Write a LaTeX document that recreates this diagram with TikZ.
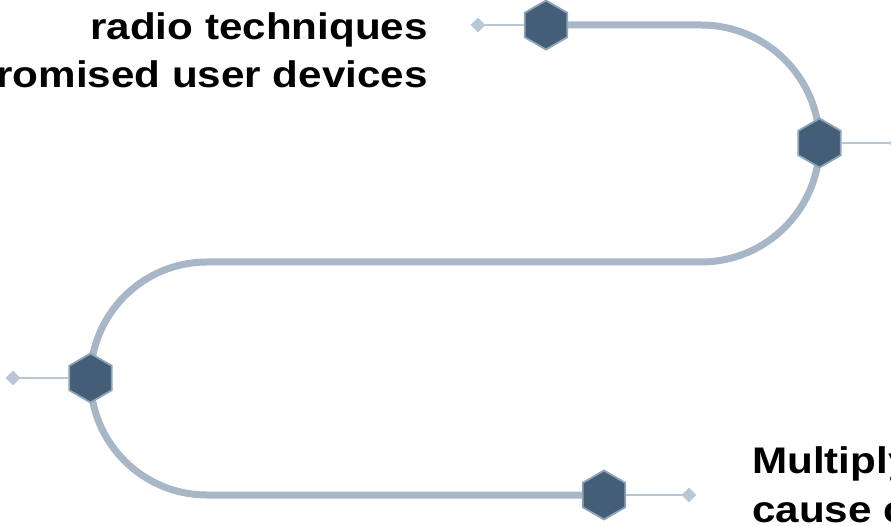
\documentclass[tikz,border=0pt]{standalone}
\usepackage{fontspec}
\setmainfont{Liberation Sans}
\usetikzlibrary{shapes.geometric}
\definecolor{pathc}{HTML}{A7B7C7}
\definecolor{hexfill}{HTML}{455E78}
\definecolor{hexline}{HTML}{8EA4B9}
\definecolor{linkc}{HTML}{B8C7D4}
\tikzset{
  road/.style={draw=pathc, line width=7pt},
  hexnode/.style={regular polygon, regular polygon sides=6, shape border rotate=30,
    minimum size=49pt, inner sep=0pt, fill=hexfill, draw=hexline, line width=1.8pt},
  dmd/.style={diamond, fill=linkc, inner sep=0pt, minimum width=15pt, minimum height=15pt},
  link/.style={draw=linkc, line width=2.6pt},
  lbl/.style={font=\fontsize{37}{42}\selectfont\bfseries, inner sep=0pt}
}
\begin{document}
\begin{tikzpicture}[x=1pt,y=1pt]
\useasboundingbox (0,0) rectangle (891,525);
% serpentine road
\coordinate (r0) at (546,500);
\coordinate (r1) at (701,500);
\coordinate (r2) at (701,263);
\coordinate (r3) at (207,263);
\coordinate (r4) at (207,30);
\coordinate (r5) at (604,30);
\draw[road] (r0) -- (r1) arc[start angle=90, end angle=-90, radius=118.5]
  -- (r3) arc[start angle=90, end angle=270, radius=116.5] -- (r5);
% hexagons
\node[hexnode] (h1) at (546,500) {};
\node[hexnode] (h2) at (819.5,382) {};
\node[hexnode] (h3) at (90.5,147) {};
\node[hexnode] (h4) at (604,30) {};
% diamonds
\node[dmd] (d1) at (478,500) {};
\node[dmd] (d2) at (896,382) {};
\node[dmd] (d3) at (13,147) {};
\node[dmd] (d4) at (689,30) {};
\draw[link] (h1.west) -- (d1.center);
\draw[link] (h2.east) -- (d2.center);
\draw[link] (h3.west) -- (d3.center);
\draw[link] (h4.east) -- (d4.center);
% texts
\node[lbl, anchor=base east] (t1) at (428,485) {\scalebox{1.14}[1]{radio techniques}};
\node[lbl, anchor=base east] (t2) at (428,437) {\scalebox{1.14}[1]{romised user devices}};
\node[lbl, anchor=base west] (t3) at (752,52) {\scalebox{1.14}[1]{Multiply}};
\node[lbl, anchor=base west] (t4) at (752,3) {\scalebox{1.14}[1]{cause c}};
\end{tikzpicture}
\end{document}
